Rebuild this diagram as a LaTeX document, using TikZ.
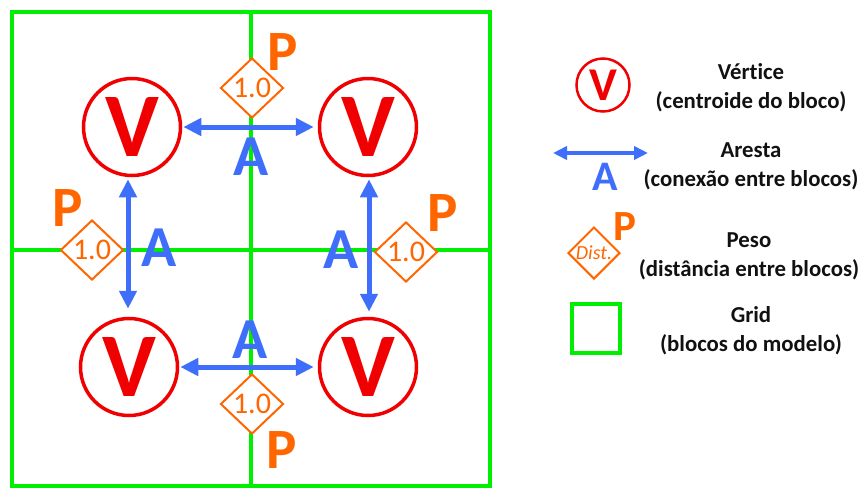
\documentclass[tikz,border=0pt]{standalone}
\usepackage{fontspec}
\setmainfont{Carlito}[Ligatures=NoCommon]
\usetikzlibrary{arrows.meta,shapes.geometric}
\definecolor{vred}{RGB}{240,0,0}
\definecolor{ablue}{RGB}{62,110,250}
\definecolor{porange}{RGB}{255,102,0}
\definecolor{ggreen}{RGB}{0,238,0}
\definecolor{ltext}{RGB}{17,17,17}
\tikzset{
  vert/.style={circle,draw=vred,line width=3.5pt,fill=white,minimum size=97pt,inner sep=0pt,
    text=vred,font=\bfseries\fontsize{91}{91}\selectfont},
  edgearrow/.style={draw=ablue,line width=5pt,{Triangle[length=18pt,width=17pt]}-{Triangle[length=18pt,width=17pt]}},
  alabel/.style={text=ablue,font=\bfseries\fontsize{58}{58}\selectfont,inner sep=0pt},
  wdiam/.style={diamond,draw=porange,line width=2pt,fill=white,minimum width=63pt,minimum height=60pt,inner sep=0pt,
    text=porange,font=\fontsize{30}{30}\selectfont},
  plabel/.style={text=porange,font=\bfseries\fontsize{57}{57}\selectfont,inner sep=0pt},
  gridline/.style={draw=ggreen,line width=4pt},
  legtext/.style={text=ltext,font=\bfseries\fontsize{22.8}{29}\selectfont,align=center,inner sep=0pt},
}
\begin{document}
\begin{tikzpicture}[x=1pt,y=-1pt]
\useasboundingbox (0,0) rectangle (863,488);
% grid
\draw[gridline] (12,12) rectangle (490,486);
\draw[gridline] (251,12) -- (251,486);
\draw[gridline] (12,250) -- (490,250);
% vertices
\node[vert] (v1) at (132,127) {V};
\node[vert] (v2) at (368,127) {V};
\node[vert] (v3) at (129,367) {V};
\node[vert] (v4) at (368,367) {V};
% edges
\draw[edgearrow,shorten <=1pt,shorten >=4pt] (v1.east) -- (v2.west);
\draw[edgearrow,shorten <=1pt,shorten >=4pt] (v3.east) -- (v4.west);
\draw[edgearrow,shorten <=2pt,shorten >=8pt] (v1.south -| 128,0) -- (v3.north -| 128,0);
\draw[edgearrow,shorten <=2pt,shorten >=5pt] (v2.south -| 369,0) -- (v4.north -| 369,0);
% edge labels
\node[alabel] (a1) at (251,157) {A};
\node[alabel] (a2) at (159,248) {A};
\node[alabel] (a3) at (341,250) {A};
\node[alabel] (a4) at (250,340) {A};
% weights
\node[wdiam] (d1) at (252,88) {1.0};
\node[wdiam] (d2) at (92,250) {1.0};
\node[wdiam] (d3) at (406,252) {1.0};
\node[wdiam] (d4) at (252,404) {1.0};
\node[plabel] (p1) at (283,52) {P};
\node[plabel] (p2) at (68,208) {P};
\node[plabel] (p3) at (443,213) {P};
\node[plabel] (p4) at (282,450) {P};
% legend
\node[circle,draw=vred,line width=2.5pt,fill=white,minimum size=53pt,inner sep=0pt,text=vred,
  font=\bfseries\fontsize{47}{47}\selectfont] (lv) at (603,85) {V};
\node[legtext] (lt1) at (751,88) {Vértice\\(centroide do bloco)};
\coordinate (la1) at (553,153);
\coordinate (la2) at (648,153);
\draw[draw=ablue,line width=4pt,{Triangle[length=14pt,width=13pt]}-{Triangle[length=14pt,width=13pt]}] (la1) -- (la2);
\node[text=ablue,font=\bfseries\fontsize{42}{42}\selectfont,inner sep=0pt] (la) at (605,177) {A};
\node[legtext] (lt2) at (751,166) {Aresta\\(conexão entre blocos)};
\node[diamond,draw=porange,line width=2pt,fill=white,minimum width=52pt,minimum height=52pt,inner sep=0pt,
  text=porange,font=\itshape\fontsize{20}{20}\selectfont] (ld) at (594,253) {Dist.};
\node[text=porange,font=\bfseries\fontsize{43}{43}\selectfont,inner sep=0pt] (lp) at (625,227) {P};
\node[legtext] (lt3) at (749,256) {Peso\\(distância entre blocos)};
\node[draw=ggreen,line width=4pt,minimum width=48pt,minimum height=49pt,inner sep=0pt] (lg) at (596,328) {};
\node[legtext] (lt4) at (751,331) {Grid\\(blocos do modelo)};
\end{tikzpicture}
\end{document}
